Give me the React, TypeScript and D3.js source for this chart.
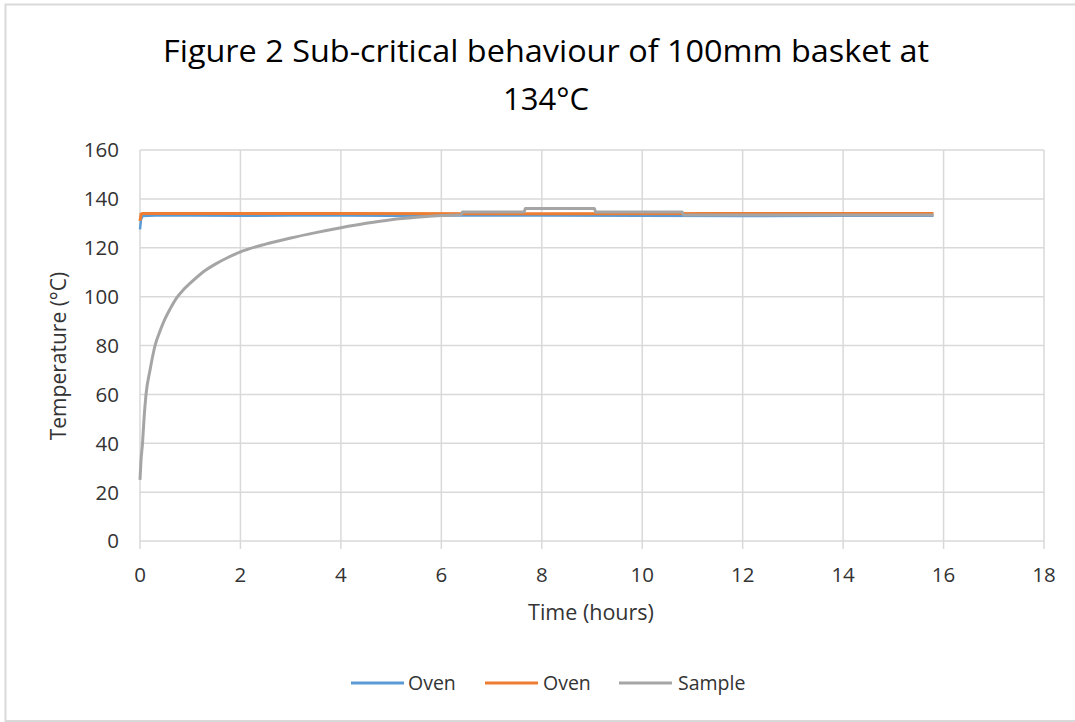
import React from "react";
import * as d3 from "d3";

const titleLines = ["Figure 2 Sub-critical behaviour of 100mm basket at", "134°C"];
const xTicks = [0, 2, 4, 6, 8, 10, 12, 14, 16, 18];
const yTicks = [0, 20, 40, 60, 80, 100, 120, 140, 160];

// Oven thermocouple 1 (blue)
const oven1Time = [0, 0.02, 0.05, 0.3, 1.0, 2.0, 3.0, 4.0, 5.0, 6.0, 8.0, 10.0, 12.0, 14.0, 15.8];
const oven1Temp = [127.5, 131.5, 133.0, 133.2, 133.2, 133.1, 133.2, 133.2, 133.1, 133.2, 133.2, 133.1, 133.0, 133.1, 133.1];

// Oven thermocouple 2 (orange)
const oven2Time = [0, 0.02, 0.05, 1.0, 4.0, 8.0, 12.0, 15.8];
const oven2Temp = [131.0, 133.8, 134.0, 134.0, 134.0, 133.9, 134.0, 134.0];

// Sample centre temperature (grey)
const sampleTime = [0, 0.02, 0.05, 0.08, 0.12, 0.2, 0.3, 0.4, 0.5, 0.6, 0.73, 0.85, 1.0, 1.25, 1.5, 1.75, 2.0, 2.5, 3.0, 3.5, 4.0, 4.5, 5.0, 5.5, 6.0, 6.4, 6.42, 7.65, 7.67, 9.05, 9.07, 10.8, 10.82, 15.8];
const sampleTemp = [25, 33, 40, 50, 60, 70, 80, 86, 91, 95, 99.5, 102.5, 105.5, 110, 113.3, 116, 118.3, 121.5, 124, 126.2, 128.2, 130, 131.5, 132.5, 133.2, 133.5, 134.6, 134.6, 136.1, 136.1, 134.6, 134.6, 133.4, 133.4];

const legendNames = ["Oven", "Oven", "Sample"];
const colors = ["#5b9bd5", "#ed7d31", "#a5a5a5"];

const W = 1075;
const H = 722;
const plot = { left: 140, right: 1044, top: 150, bottom: 541 };
const font = "'Open Sans', 'Noto Sans', sans-serif";
const textColor = "#333333";
const gridColor = "#d9d9d9";

export default function App() {
  const x = d3.scaleLinear().domain([0, 18]).range([plot.left, plot.right]);
  const y = d3.scaleLinear().domain([0, 160]).range([plot.bottom, plot.top]);

  const line = d3
    .line<[number, number]>()
    .x((d) => x(d[0]))
    .y((d) => y(d[1]));
  const smooth = d3
    .line<[number, number]>()
    .x((d) => x(d[0]))
    .y((d) => y(d[1]))
    .curve(d3.curveMonotoneX);

  const oven1 = oven1Time.map((t, i) => [t, oven1Temp[i]] as [number, number]);
  const oven2 = oven2Time.map((t, i) => [t, oven2Temp[i]] as [number, number]);
  const sample = sampleTime.map((t, i) => [t, sampleTemp[i]] as [number, number]);

  const legendItems = [
    { lx: 351, tx: 408 },
    { lx: 485, tx: 543 },
    { lx: 619, tx: 678 },
  ];

  return (
    <svg
      width={W}
      height={H}
      style={{ position: "absolute", left: 0, top: 0, background: "#fff" }}
    >
      <rect x={5.5} y={4.5} width={W} height={716.5} fill="#fff" stroke={gridColor} strokeWidth={2} />

      {titleLines.map((t, i) => (
        <text
          key={i}
          x={546}
          y={62 + i * 48}
          textAnchor="middle"
          fontFamily={font}
          fontSize={31}
          fill="#000"
          textLength={i === 0 ? 766 : undefined}
          lengthAdjust="spacingAndGlyphs"
        >
          {t}
        </text>
      ))}

      {/* gridlines */}
      {yTicks.map((v) => (
        <line key={"gy" + v} x1={plot.left} x2={plot.right} y1={y(v)} y2={y(v)} stroke={gridColor} strokeWidth={1.5} />
      ))}
      {xTicks.map((v) => (
        <line key={"gx" + v} x1={x(v)} x2={x(v)} y1={plot.top} y2={plot.bottom + 8} stroke={gridColor} strokeWidth={1.5} />
      ))}

      {/* y tick labels */}
      {yTicks.map((v) => (
        <text key={"ty" + v} x={119} y={y(v)} dy="0.36em" textAnchor="end" fontFamily={font} fontSize={20.5} fill={textColor}>
          {v}
        </text>
      ))}
      {/* x tick labels */}
      {xTicks.map((v) => (
        <text key={"tx" + v} x={x(v)} y={582} textAnchor="middle" fontFamily={font} fontSize={20.5} fill={textColor}>
          {v}
        </text>
      ))}

      <text x={591} y={620} textAnchor="middle" fontFamily={font} fontSize={21.5} fill={textColor}>
        Time (hours)
      </text>
      <text
        transform={`translate(66, 356) rotate(-90)`}
        textAnchor="middle"
        fontFamily={font}
        fontSize={21}
        fill={textColor}
      >
        Temperature (°C)
      </text>

      {/* series */}
      <path d={line(oven1) || ""} fill="none" stroke={colors[0]} strokeWidth={2.5} />
      <path d={line(oven2) || ""} fill="none" stroke={colors[1]} strokeWidth={3} />
      <path d={smooth(sample) || ""} fill="none" stroke={colors[2]} strokeWidth={3} />

      {/* legend */}
      {legendItems.map((it, i) => (
        <g key={"lg" + i}>
          <line x1={it.lx} x2={it.lx + 53} y1={683} y2={683} stroke={colors[i]} strokeWidth={3} />
          <text x={it.tx} y={683} dy="0.36em" fontFamily={font} fontSize={19.5} fill={textColor}>
            {legendNames[i]}
          </text>
        </g>
      ))}
    </svg>
  );
}
